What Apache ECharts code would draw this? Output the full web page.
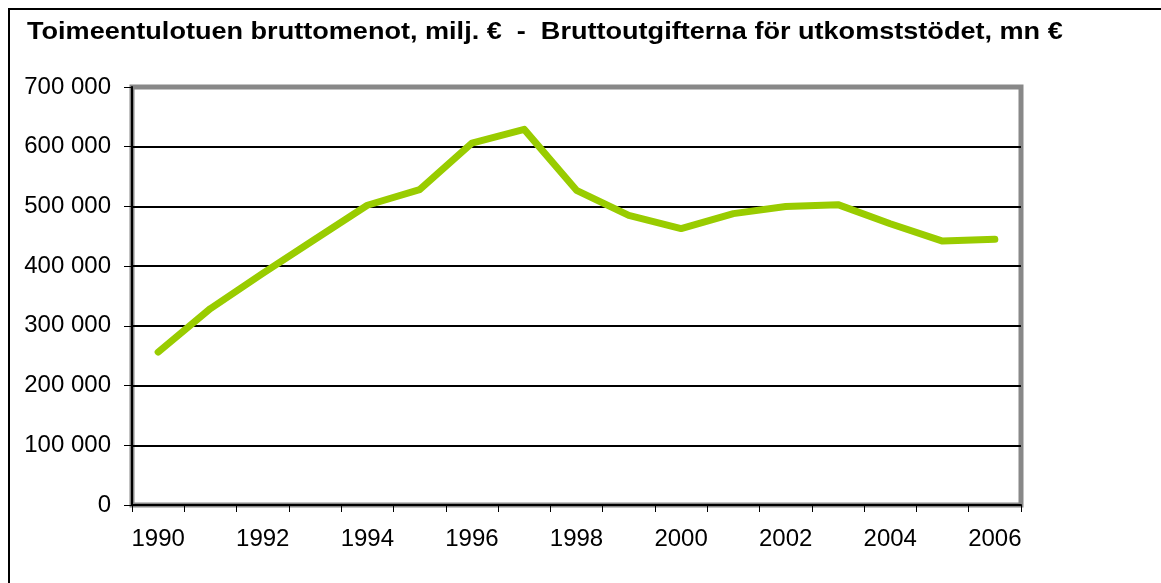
<!DOCTYPE html>
<html>
<head>
<meta charset="utf-8">
<script src="https://cdn.jsdelivr.net/npm/echarts@6/dist/echarts.min.js"></script>
<style>
html,body{margin:0;padding:0;background:#fff;}
#chart{width:1161px;height:583px;}
</style>
</head>
<body>
<div id="chart"></div>
<script>
const titleText = 'Toimeentulotuen bruttomenot, milj. €  -  Bruttoutgifterna för utkomststödet, mn €';
const years = ['1990','1991','1992','1993','1994','1995','1996','1997','1998','1999','2000','2001','2002','2003','2004','2005','2006'];
const grossExpenditure = [256000, 329000, 388000, 445000, 502000, 528000, 606000, 629000, 527000, 485000, 463000, 488000, 500000, 503000, 471000, 442000, 445000];
const yTicks = [0, 100000, 200000, 300000, 400000, 500000, 600000, 700000];

const FONT = '"Liberation Sans", Arial, sans-serif';
const chart = echarts.init(document.getElementById('chart'), null, {renderer: 'canvas'});
function fmt(v){ return String(v).replace(/\B(?=(\d{3})+(?!\d))/g, ' '); }

chart.setOption({
  animation: false,
  backgroundColor: '#fff',
  graphic: [
    {
      type: 'rect', z: 0, silent: true,
      shape: {x: 9, y: 9, width: 1250, height: 650},
      style: {fill: 'none', stroke: '#000', lineWidth: 2}
    },
    {
      type: 'text', z: 10, x: 27, y: 32, scaleX: 1.128,
      style: {text: titleText, x: 0, y: 0, fill: '#000', font: 'bold 24px ' + FONT, textVerticalAlign: 'middle'}
    }
  ],
  grid: {
    left: 132, right: 140, top: 87, bottom: 78,
    show: true, borderColor: '#888', borderWidth: 5, backgroundColor: 'transparent'
  },
  xAxis: {
    type: 'category',
    data: years,
    boundaryGap: true,
    axisLine: {show: true, lineStyle: {color: '#000', width: 2}},
    axisTick: {show: true, interval: 0, length: 7, lineStyle: {color: '#000', width: 1}},
    axisLabel: {interval: 1, color: '#000', fontSize: 24, fontFamily: FONT, margin: 22},
    splitLine: {show: false}
  },
  yAxis: {
    type: 'value',
    min: yTicks[0], max: yTicks[yTicks.length - 1], interval: yTicks[1] - yTicks[0],
    axisLine: {show: true, lineStyle: {color: '#000', width: 2}},
    axisTick: {show: true, length: 8, lineStyle: {color: '#000', width: 1}},
    axisLabel: {color: '#000', fontSize: 24, fontFamily: FONT, margin: 21, formatter: fmt},
    splitLine: {show: true, lineStyle: {color: ['#000','#000','#000','#000','#000','#000','#000','#888'], width: 2}}
  },
  series: [{
    type: 'line',
    data: grossExpenditure,
    showSymbol: false,
    symbol: 'none',
    lineStyle: {color: '#99cc00', width: 7, cap: 'round', join: 'round'},
    z: 5
  }]
});
</script>
</body>
</html>
